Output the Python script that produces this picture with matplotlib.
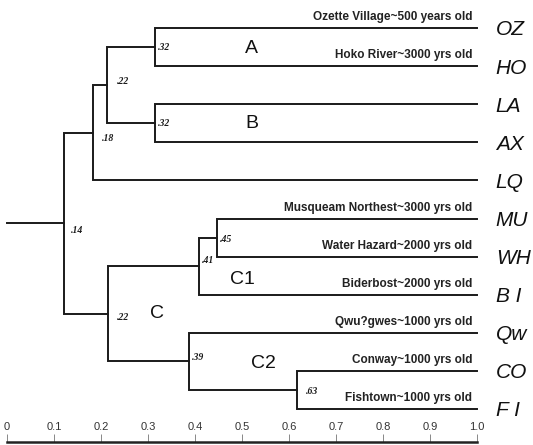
import matplotlib
matplotlib.use('Agg')
import matplotlib.pyplot as plt

# ---------------- data ----------------
leaf_names = ['Ozette Village~500 years old', 'Hoko River~3000 yrs old', '', '', '',
              'Musqueam Northest~3000 yrs old', 'Water Hazard~2000 yrs old',
              'Biderbost~2000 yrs old', 'Qwu?gwes~1000 yrs old',
              'Conway~1000 yrs old', 'Fishtown~1000 yrs old']
leaf_codes = ['OZ', 'HO', 'LA', 'AX', 'LQ', 'MU', 'WH', 'B I', 'Qw', 'CO', 'F I']

# merges: (left child, right child, similarity level, printed label)
# children: leaf index (int) or node name (str)
node_names = ['A', 'B', 'AB', 'ABLQ', 'MUWH', 'C1', 'COFI', 'C2', 'C', 'ROOT']
node_left = [0, 2, 'A', 'AB', 5, 'MUWH', 9, 8, 'C1', 'ABLQ']
node_right = [1, 3, 'B', 4, 6, 7, 10, 'COFI', 'C2', 'C']
node_level = [0.315, 0.315, 0.213, 0.183, 0.447, 0.408, 0.617, 0.387, 0.214, 0.122]
node_label = ['.32', '.32', '.22', '.18', '.45', '.41', '.63', '.39', '.22', '.14']

cluster_names = ['A', 'B', 'C', 'C1', 'C2']
cluster_x = [0.52, 0.52, 0.32, 0.50, 0.545]
cluster_y = [0.55, 2.5, 7.5, 6.6, 8.8]

x_ticks = [0, 0.1, 0.2, 0.3, 0.4, 0.5, 0.6, 0.7, 0.8, 0.9, 1.0]
x_tick_labels = ['0', '0.1', '0.2', '0.3', '0.4', '0.5', '0.6', '0.7', '0.8', '0.9', '1.0']

# ---------------- figure ----------------
W, H = 533, 445
fig = plt.figure(figsize=(W / 100, H / 100), dpi=100)
ax = fig.add_axes([0, 3 / H, 1, 442 / H])

px_x = 470.0          # pixels per unit of similarity
px_y = 38.1           # pixels per leaf
ax.set_xlim(-7 / px_x, (W - 7) / px_x)
ax.set_ylim((442 - 28) / px_y, -28 / px_y)

LW = 1.4
INK = '#1a1a1a'

pos = {}   # node name -> (x, y)
for i in range(len(leaf_codes)):
    pos[i] = (1.0, i)

for name, l, r, lev in zip(node_names, node_left, node_right, node_level):
    xl, yl = pos[l]
    xr, yr = pos[r]
    ax.plot([xl, lev, lev, xr], [yl, yl, yr, yr], color=INK, lw=LW, solid_joinstyle='miter')
    pos[name] = (lev, (yl + yr) / 2)

# stub to the left of root
rx, ry = pos['ROOT']
ax.plot([0, rx], [ry, ry], color=INK, lw=LW)

# node value labels
label_dx = [0.007, 0.007, 0.02, 0.02, 0.007, 0.007, 0.02, 0.007, 0.02, 0.015]
label_dy = [0, 0, -0.1, 0.15, 0.05, -0.15, 0.05, -0.1, 0.1, 0.2]
for name, lab, dx, dy in zip(node_names, node_label, label_dx, label_dy):
    x, y = pos[name]
    ax.text(x + dx, y + dy, lab, fontsize=7, style='italic', fontweight='bold',
            family='Liberation Serif', ha='left', va='center', color=INK)

# leaf descriptions and codes
for i, (nm, code) in enumerate(zip(leaf_names, leaf_codes)):
    if nm:
        ax.text(0.99, i - 0.2, nm, ha='right', va='baseline', fontsize=8.5,
                fontweight='bold', family='Liberation Sans', color='#222222')
    ax.text(1.04, i + 0.05, code, ha='left', va='center', fontsize=15,
            style='italic', family='Liberation Sans', color='#111111')

# cluster letters
for nm, cx, cy in zip(cluster_names, cluster_x, cluster_y):
    ax.text(cx, cy, nm, ha='center', va='center', fontsize=14,
            family='Liberation Sans', color='#111111')

# scale axis at the bottom
for s in ['top', 'right', 'left']:
    ax.spines[s].set_visible(False)
ax.spines['bottom'].set_bounds(0, 1.0)
ax.spines['bottom'].set_linewidth(1.8)
ax.spines['bottom'].set_color('#222222')
ax.set_yticks([])
ax.set_xticks(x_ticks)
ax.set_xticklabels(x_tick_labels, family='Liberation Sans', fontsize=8, color='#333333')
ax.tick_params(axis='x', direction='in', length=6, width=0.7, color='#888888', pad=-14.5)
ax.patch.set_visible(False)

fig.savefig('out.png', dpi=100)
